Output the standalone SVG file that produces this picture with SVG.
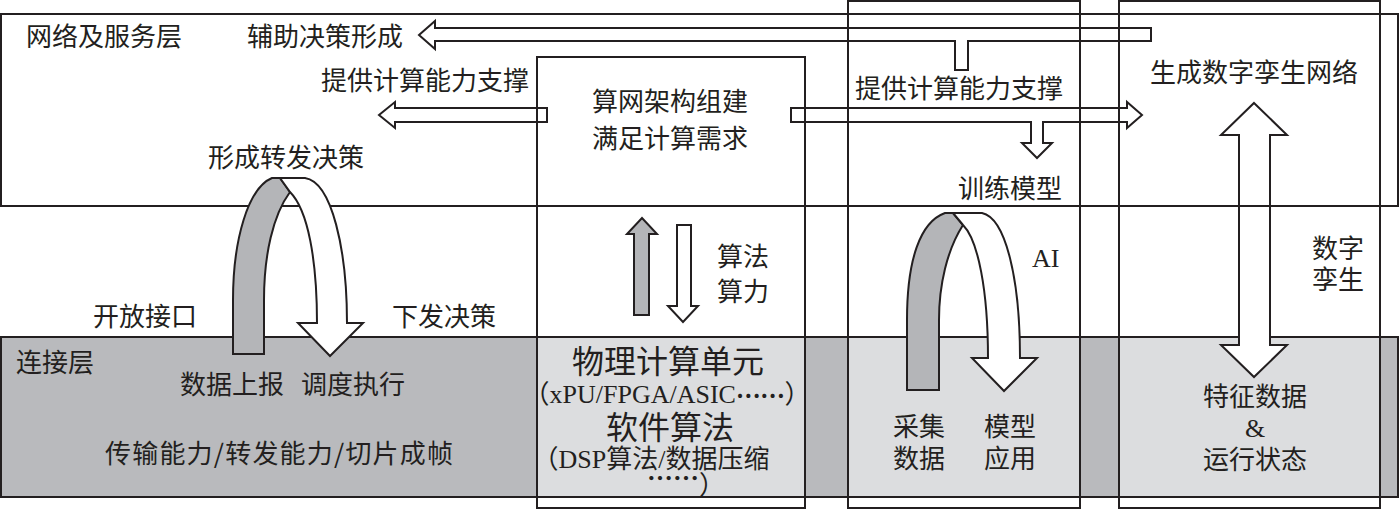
<svg xmlns="http://www.w3.org/2000/svg" width="1400" height="511" viewBox="0 0 1400 511">
<style>
.ln{fill:none;stroke:#231f20;stroke-width:2}
.wf{fill:#fff;stroke:#231f20;stroke-width:2;stroke-linejoin:miter}
.gf{fill:#b4b5b8;stroke:#231f20;stroke-width:2;stroke-linejoin:miter}
.lt{fill:#dcdddf}
.t{font-family:"Noto Sans CJK SC","Noto Sans CJK JP",sans-serif;font-size:26px;fill:#231f20}
.c{text-anchor:middle}
.e{text-anchor:end}
.big{font-size:32px}
.lat{font-family:"Liberation Serif","Noto Sans CJK SC",serif}
.cjk{font-family:"Noto Sans CJK SC","Noto Sans CJK JP",sans-serif;font-weight:bold}
</style>
<rect width="1400" height="511" fill="#fff"/>

<g id="service-layer">
  <rect x="1" y="14" width="1397" height="192" class="wf"/>
</g>
<g id="connect-layer">
  <rect x="1" y="337" width="1397" height="160" fill="#b9babd" stroke="#231f20" stroke-width="2"/>
  <rect x="538" y="338" width="266" height="158" class="lt"/>
  <rect x="849" y="338" width="230" height="158" class="lt"/>
  <rect x="1120" y="338" width="259" height="158" class="lt"/>
</g>

<g id="connectors">
  <path class="wf" d="M1151,28 L435,28 L435,21 L419,35 L435,49 L435,41 L955,41 L955,70 L968,70 L968,41 L1151,41 Z"/>
  <path class="wf" d="M547,108 L395,108 L395,102 L379,115 L395,128 L395,122 L547,122 Z"/>
  <path class="wf" d="M791,108 L1127,108 L1127,102 L1142,115 L1127,128 L1127,122 L1043,122 L1043,143 L1052,143 L1037,158 L1022,143 L1031,143 L1031,122 L791,122 Z"/>
</g>

<g id="compute-column">
  <rect x="537" y="57" width="268" height="451" class="ln"/>
</g>
<g id="ai-column">
  <rect x="848" y="1" width="232" height="507" class="ln"/>
</g>
<g id="twin-column">
  <rect x="1119" y="1" width="261" height="507" class="ln"/>
</g>

<g id="connectors-2">
  <path class="gf" d="M233,354 L233,300 C233,240 248,188 272,178 L280,178 L290,192 C273,215 264,255 264,300 L264,354 Z"/>
  <path class="wf" d="M280,178 L305,178 C332,182 347,250 347,323 L363,323 L330,356 L298,323 L317,323 C317,260 308,210 290,192 Z"/>
  <path class="gf" d="M907,390 L907,320 C907,260 920,222 945,213 L953,213 L963,225 C947,250 939,285 939,320 L939,390 Z"/>
  <path class="wf" d="M953,213 L982,213 C1006,218 1020,280 1020,358 L1037,358 L1004,391 L972,358 L988,358 C988,290 978,240 963,225 Z"/>
  <path class="gf" d="M634,315 L634,234 L627,234 L642,218 L657,234 L649,234 L649,315 Z"/>
  <path class="wf" d="M677,225 L677,306 L668,306 L683,322 L698,306 L691,306 L691,225 Z"/>
  <path class="wf" d="M1254,103 L1287,135 L1270,135 L1270,345 L1287,345 L1254,377 L1221,345 L1239,345 L1239,135 L1221,135 Z"/>
  <line x1="1239" y1="206" x2="1270" y2="206" class="ln"/>
</g>

<g id="labels">
  <text class="t" x="26" y="46">网络及服务层</text>
  <text class="t" x="247" y="46">辅助决策形成</text>
  <text class="t e" x="529" y="90">提供计算能力支撑</text>
  <text class="t c" x="286" y="167">形成转发决策</text>
  <text class="t c" x="670" y="111">算网架构组建</text>
  <text class="t c" x="670" y="148">满足计算需求</text>
  <text class="t c" x="959" y="98">提供计算能力支撑</text>
  <text class="t c" x="1010" y="198">训练模型</text>
  <text class="t c" x="1254" y="82">生成数字孪生网络</text>
  <text class="t c" x="145" y="326">开放接口</text>
  <text class="t c" x="444" y="326">下发决策</text>
  <text class="t" x="16" y="372">连接层</text>
  <text class="t c" x="232" y="394">数据上报</text>
  <text class="t c" x="353" y="394">调度执行</text>
  <text class="t" x="105" y="463" textLength="348" lengthAdjust="spacing">传输能力/转发能力/切片成帧</text>
  <text class="t" x="717" y="266">算法</text>
  <text class="t" x="717" y="301">算力</text>
  <text class="t lat" x="1032" y="267" font-size="26">AI</text>
  <text class="t" x="1312" y="258" font-size="25">数字</text>
  <text class="t" x="1312" y="289" font-size="25">孪生</text>
  <text class="t c big" x="668" y="373">物理计算单元</text>
  <text class="t c lat" x="667" y="403" font-size="24">（xPU/FPGA/ASIC<tspan class="cjk" font-size="22" dy="-5">……</tspan><tspan dy="5">）</tspan></text>
  <text class="t c big" x="670" y="439">软件算法</text>
  <text class="t c lat" x="651" y="468" font-size="24">（DSP算法/数据压缩</text>
  <text class="t lat" x="647" y="494" font-size="22"><tspan class="cjk" dy="-6">……</tspan><tspan dy="6">）</tspan></text>
  <text class="t c" x="919" y="436">采集</text>
  <text class="t c" x="919" y="468">数据</text>
  <text class="t c" x="1010" y="436">模型</text>
  <text class="t c" x="1010" y="468">应用</text>
  <text class="t c" x="1255" y="406">特征数据</text>
  <text class="t c lat" x="1255" y="437" font-size="27">&amp;</text>
  <text class="t c" x="1255" y="469">运行状态</text>
</g>
</svg>
